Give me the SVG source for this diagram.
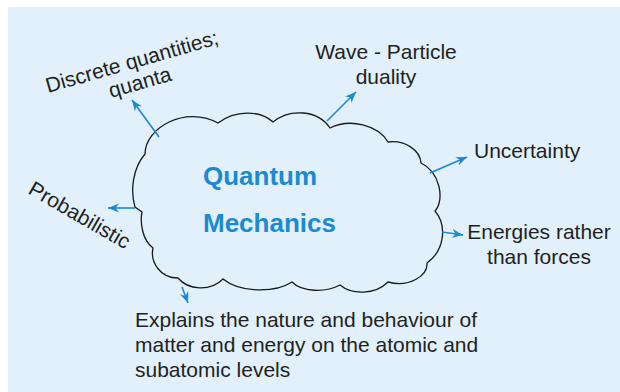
<svg xmlns="http://www.w3.org/2000/svg" width="620" height="392" viewBox="0 0 620 392">
<defs>
<marker id="ah" markerWidth="12" markerHeight="10" refX="11" refY="5" orient="auto" markerUnits="userSpaceOnUse">
<path d="M0,0.5 L11,5 L0,9.5 L3.5,5 Z" fill="#1b8ad0"/>
</marker>
<style>
.lbl{font-family:"Liberation Sans",Arial,sans-serif;font-size:21px;fill:#231f20}
.title{font-family:"Liberation Sans",Arial,sans-serif;font-size:26px;font-weight:bold;fill:#1b8ad0}
.arr{stroke:#1b8ad0;stroke-width:1.6;fill:none;marker-end:url(#ah)}
.cloud{fill:none;stroke:#1a1a1a;stroke-width:1.3}
</style>
</defs>
<rect x="8" y="7" width="612" height="385" fill="#e1f0fb"/>
<g id="cloud">
<path class="cloud" d="M135,207 C130,190 133,168 145,154 C145,128 185,105 218,123 C235,110 260,110 273,122 C290,108 318,110 330,128 C350,118 378,125 388,142 C405,140 420,150 421,163 C440,172 445,200 435,211 C447,225 445,250 427,263 C428,275 410,288 388,282 C375,295 352,295 340,285 C325,293 302,292 292,282 C275,293 240,293 223,279 C210,292 188,290 178,278 C160,278 150,262 153,248 C142,240 140,222 142,212 L135,207 Z"/>
<text class="title" x="203" y="185">Quantum</text>
<text class="title" x="203" y="232">Mechanics</text>
</g>
<g id="connectors">
<line class="arr" x1="159" y1="137" x2="132" y2="100"/>
<line class="arr" x1="327" y1="121" x2="356" y2="92"/>
<line class="arr" x1="430" y1="173" x2="467" y2="157"/>
<line class="arr" x1="442" y1="232" x2="463" y2="235"/>
<line class="arr" x1="135" y1="208" x2="108" y2="208"/>
<line class="arr" x1="182" y1="287" x2="188" y2="303"/>
</g>
<g id="discrete">
<text class="lbl" transform="translate(48,93) rotate(-16)">Discrete quantities;</text>
<text class="lbl" transform="translate(111,98) rotate(-16)">quanta</text>
</g>
<g id="wave">
<text class="lbl" x="386" y="59" text-anchor="middle">Wave - Particle</text>
<text class="lbl" x="386" y="84" text-anchor="middle">duality</text>
</g>
<g id="uncertainty">
<text class="lbl" x="474" y="158">Uncertainty</text>
</g>
<g id="energies">
<text class="lbl" x="539" y="239" text-anchor="middle">Energies rather</text>
<text class="lbl" x="539" y="264" text-anchor="middle">than forces</text>
</g>
<g id="probabilistic">
<text class="lbl" transform="translate(27,193) rotate(30)">Probabilistic</text>
</g>
<g id="explains">
<text class="lbl" x="135" y="327">Explains the nature and behaviour of</text>
<text class="lbl" x="135" y="352">matter and energy on the atomic and</text>
<text class="lbl" x="135" y="377">subatomic levels</text>
</g>
</svg>
